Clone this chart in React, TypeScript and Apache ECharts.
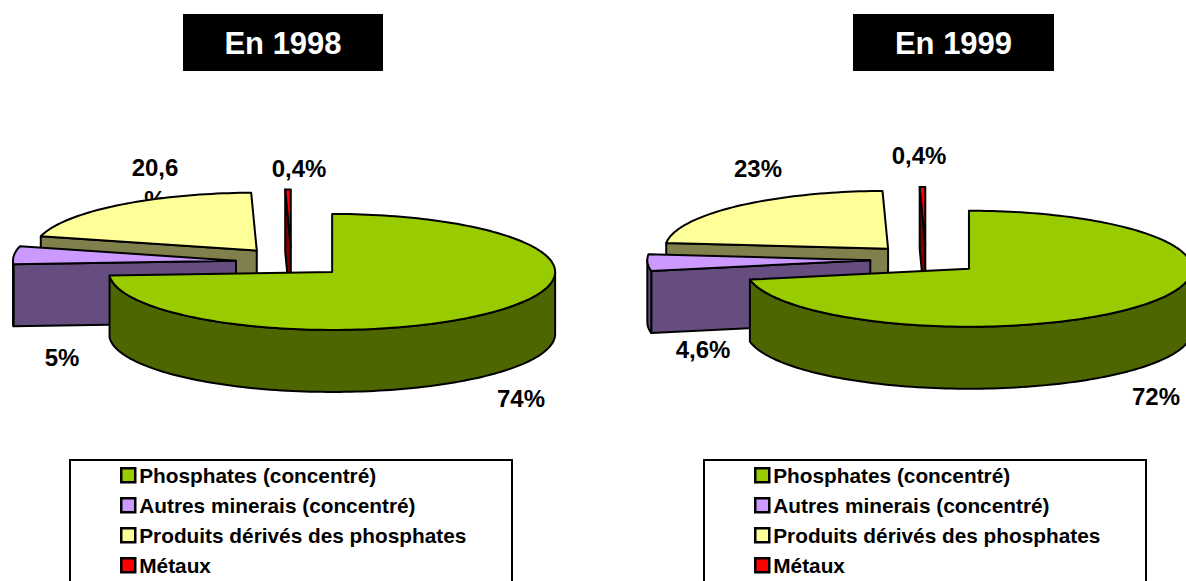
import React, { useEffect, useRef } from "react";
import * as echarts from "echarts";

const categories = [
  "Phosphates (concentré)",
  "Autres minerais (concentré)",
  "Produits dérivés des phosphates",
  "Métaux",
];
const values1998 = [74, 5, 20.6, 0.4];
const values1999 = [72, 4.6, 23, 0.4];
const labels1998 = ["74%", "5%", "20,6\n%", "0,4%"];
const labels1999 = ["72%", "4,6%", "23%", "0,4%"];
const topColors = ["#99CC00", "#CC99FF", "#FFFF99", "#FF0000"];
const wallColors = ["#4D6600", "#664D80", "#80804D", "#800000"];
const paintOrder = [3, 2, 1, 0]; // stacking rank: green in front, then purple, yellow, red

const RX = 223;
const RY = 58;
const DEPTH = 62;
const EXPLODE = 0.25;
const FONT = "'Liberation Sans', Arial, sans-serif";

const pies = [
  {
    values: values1998, labels: labels1998, title: "En 1998",
    cx: 291.5, cy: 262, titleBox: [183, 14, 200, 57], legendBox: [70, 460, 442, 140], legendX: 120,
    labelPos: [[521, 398], [62, 357], [155, 183], [299, 168]],
  },
  {
    values: values1999, labels: labels1999, title: "En 1999",
    cx: 926, cy: 259.5, titleBox: [853, 14, 201, 57], legendBox: [704, 460, 442, 140], legendX: 754,
    labelPos: [[1156, 396], [703, 349], [758, 168], [919, 155]],
  },
];

function arc(ax: number, ay: number, from: number, to: number) {
  const pts: number[][] = [];
  const n = Math.max(2, Math.ceil(Math.abs(to - from) / 1.5));
  for (let i = 0; i <= n; i++) {
    const t = ((from + ((to - from) * i) / n) * Math.PI) / 180;
    pts.push([ax + RX * Math.sin(t), ay - RY * Math.cos(t)]);
  }
  return pts;
}

function sliceChildren(pie: any, idx: number) {
  const total = pie.values.reduce((a: number, b: number) => a + b, 0);
  let start = 0;
  for (let i = 0; i < idx; i++) start += (pie.values[i] / total) * 360;
  const end = start + (pie.values[idx] / total) * 360;
  const mid = ((start + end) / 2) * (Math.PI / 180);
  const ax = pie.cx + EXPLODE * RX * Math.sin(mid);
  const ay = pie.cy - EXPLODE * RY * Math.cos(mid);
  const base = { stroke: "#000", lineWidth: 2, lineJoin: "round" };
  const wall = { ...base, fill: wallColors[idx] };
  const children: any[] = [];
  const face = (deg: number) => {
    const t = (deg * Math.PI) / 180;
    const ex = ax + RX * Math.sin(t);
    const ey = ay - RY * Math.cos(t);
    children.push({
      type: "polygon",
      shape: { points: [[ax, ay], [ex, ey], [ex, ey + DEPTH], [ax, ay + DEPTH]] },
      style: wall,
    });
  };
  // cut face seen by the viewer when its outward normal points forwards
  if (Math.cos(((start - 90) * Math.PI) / 180) < 0) face(start);
  if (Math.cos(((end + 90) * Math.PI) / 180) < 0) face(end);
  // outer rim: front half of the ellipse only
  const rimFrom = Math.max(start, 90);
  const rimTo = Math.min(end, 270);
  if (rimTo > rimFrom) {
    const upper = arc(ax, ay, rimFrom, rimTo);
    const lower = upper.map((p) => [p[0], p[1] + DEPTH]).reverse();
    children.push({ type: "polygon", shape: { points: [...upper, ...lower] }, style: wall });
  }
  children.push({
    type: "polygon",
    shape: { points: [[ax, ay], ...arc(ax, ay, start, end)] },
    style: { ...base, fill: topColors[idx] },
  });
  return children;
}

const series: any[] = [];
pies.forEach((pie) => {
  categories.forEach((name, idx) => {
    series.push({
      type: "custom",
      name,
      coordinateSystem: "none",
      silent: true,
      z: 10 + paintOrder[idx],
      itemStyle: { color: topColors[idx] },
      data: [pie.values[idx]],
      renderItem: () => ({ type: "group", children: sliceChildren(pie, idx) }),
    });
  });
});

const graphics: any[] = [];
pies.forEach((pie) => {
  const [tx, ty, tw, th] = pie.titleBox;
  graphics.push({ type: "rect", z: 1, shape: { x: tx, y: ty, width: tw, height: th }, style: { fill: "#000" } });
  graphics.push({
    type: "text", z: 2, x: tx + tw / 2, y: ty + th / 2 + 1,
    style: { text: pie.title, fill: "#fff", font: `bold 31px ${FONT}`, textAlign: "center", textVerticalAlign: "middle" },
  });
  const [lx, ly, lw, lh] = pie.legendBox;
  graphics.push({
    type: "rect", z: 1, shape: { x: lx, y: ly, width: lw, height: lh },
    style: { fill: "none", stroke: "#000", lineWidth: 2 },
  });
  pie.labels.forEach((text: string, i: number) => {
    const [x, y] = pie.labelPos[i];
    graphics.push({
      type: "text", z: 2, x, y,
      style: { text, fill: "#000", font: `bold 24px ${FONT}`, lineHeight: 32, textAlign: "center", textVerticalAlign: "middle" },
    });
  });
});

const option: any = {
  animation: false,
  backgroundColor: "#fff",
  legend: pies.map((pie) => ({
    data: categories,
    orient: "vertical",
    left: pie.legendX,
    top: 463.5,
    padding: 0,
    selectedMode: false,
    icon: "rect",
    itemWidth: 14,
    itemHeight: 14,
    itemGap: 6.5,
    itemStyle: { borderColor: "#000", borderWidth: 2.5 },
    textStyle: { color: "#000", fontFamily: FONT, fontWeight: "bold", fontSize: 20.8, lineHeight: 23.5, padding: [0, 0, 0, -1] },
  })),
  graphic: { elements: graphics },
  series,
};

export default function App() {
  const ref = useRef<HTMLDivElement>(null);
  useEffect(() => {
    document.body.style.margin = "0";
    const chart = echarts.init(ref.current!, undefined, { renderer: "svg" });
    chart.setOption(option);
    return () => chart.dispose();
  }, []);
  return <div ref={ref} style={{ position: "absolute", left: 0, top: 0, width: 1186, height: 581, overflow: "hidden" }} />;
}
